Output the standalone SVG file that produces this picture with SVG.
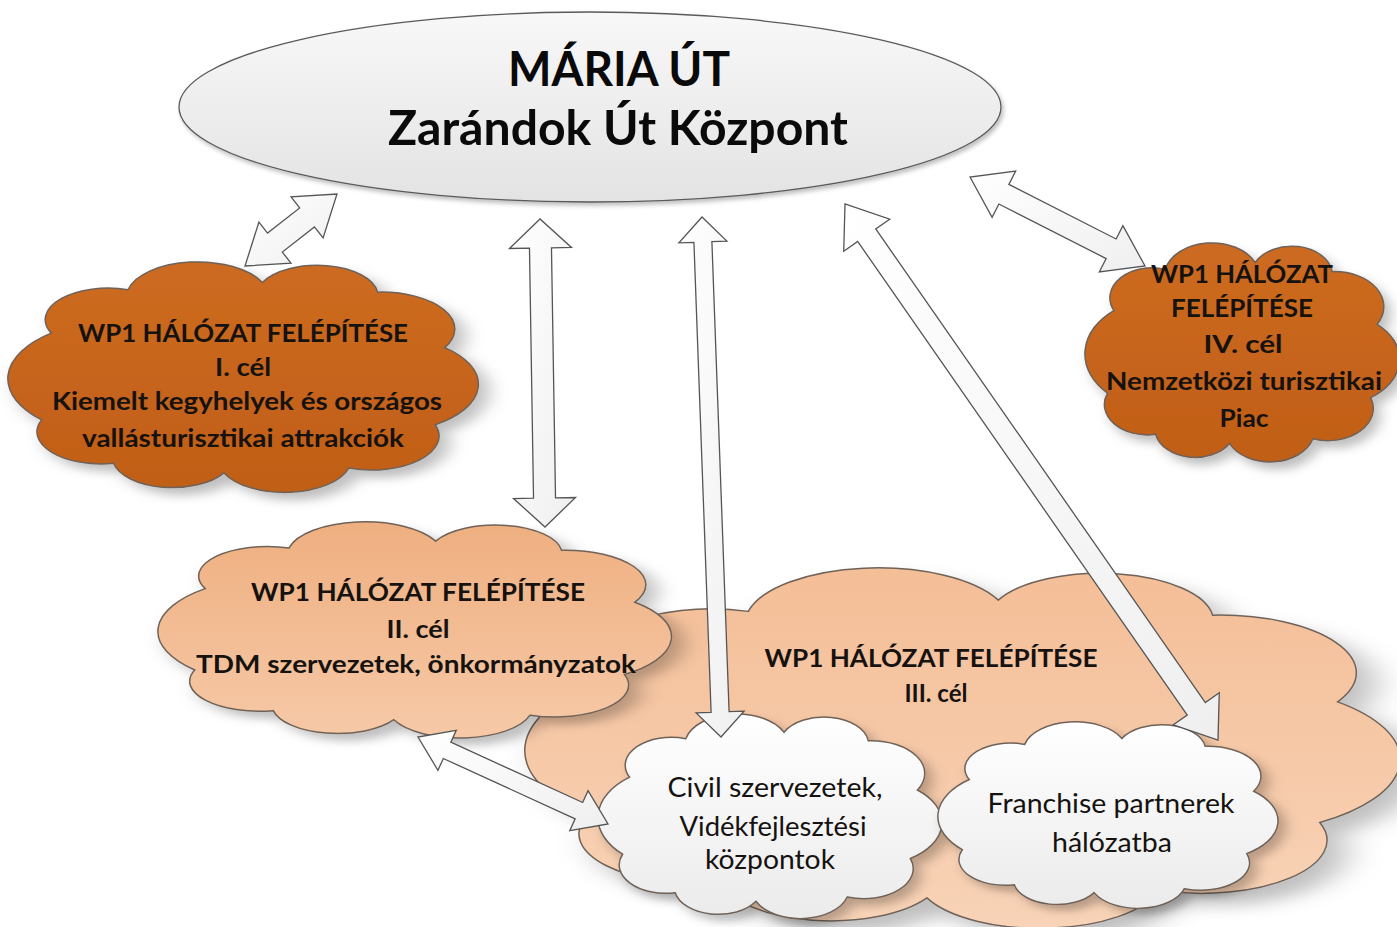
<svg xmlns="http://www.w3.org/2000/svg" xmlns:xlink="http://www.w3.org/1999/xlink" width="1397" height="927" viewBox="0 0 1397 927">
<style>
.t{font-family:Lato,"Liberation Sans","DejaVu Sans",sans-serif;fill:#151210;text-anchor:middle;}
.b{font-weight:bold;font-size:25px;}
.r{font-weight:normal;font-size:27px;}
.h{font-weight:bold;font-size:48px;fill:#0a0a0a;}
.cl{stroke:#6f6258;stroke-width:1.5;}
.arr{fill:url(#gArr);stroke:#555;stroke-width:1.3;stroke-linejoin:miter;}
</style>
<defs>
<linearGradient id="gEll" x1="0" y1="0" x2="0" y2="1"><stop offset="0" stop-color="#f8f8f8"/><stop offset="1" stop-color="#e3e3e3"/></linearGradient>
<linearGradient id="gDark" x1="0" y1="0" x2="0" y2="1"><stop offset="0" stop-color="#cd6b21"/><stop offset="1" stop-color="#c05e17"/></linearGradient>
<linearGradient id="gMid" x1="0" y1="0" x2="0" y2="1"><stop offset="0" stop-color="#efaf80"/><stop offset="1" stop-color="#f6c9a7"/></linearGradient>
<linearGradient id="gLight" x1="0" y1="0" x2="0" y2="1"><stop offset="0" stop-color="#f4be97"/><stop offset="1" stop-color="#f8d3b7"/></linearGradient>
<linearGradient id="gWhite" x1="0" y1="0" x2="0" y2="1"><stop offset="0" stop-color="#ffffff"/><stop offset="1" stop-color="#ebebeb"/></linearGradient>
<linearGradient id="gArr" x1="0" y1="0" x2="1" y2="1"><stop offset="0" stop-color="#ffffff"/><stop offset="1" stop-color="#efefef"/></linearGradient>
<filter id="sh" x="-10%" y="-10%" width="120%" height="125%"><feDropShadow dx="2" dy="3" stdDeviation="2" flood-color="#000" flood-opacity="0.25"/></filter>
<path id="cloud" vector-effect="non-scaling-stroke" d="M8,68 A24.3,24.3 0 0 1 10,32 A13.1,13.1 0 0 1 26,14 A14.9,14.9 0 0 1 54,11 A12.7,12.7 0 0 1 78,15 A15.3,15.3 0 0 1 92,38 A20.1,20.1 0 0 1 90,70 A14.1,14.1 0 0 1 72,88 A13.9,13.9 0 0 1 46,90 A12.5,12.5 0 0 1 23,86 A13.3,13.3 0 0 1 8,68 Z"/>
</defs>
<rect width="1397" height="927" fill="#ffffff"/>

<g id="center">
<ellipse cx="590" cy="107" rx="411" ry="95" fill="url(#gEll)" stroke="#5a5a5a" stroke-width="1.3" filter="url(#sh)"/>
<text class="t h" x="619" y="86" textLength="222" lengthAdjust="spacingAndGlyphs">MÁRIA ÚT</text>
<text class="t h" x="618" y="145" textLength="460" lengthAdjust="spacingAndGlyphs">Zarándok Út Központ</text>
</g>

<g id="goal1">
<use xlink:href="#cloud" href="#cloud" class="cl" fill="url(#gDark)" filter="url(#sh)" transform="translate(3.2,256) scale(4.8,2.41)"/>
<text class="t b" x="243" y="342" textLength="330" lengthAdjust="spacingAndGlyphs">WP1 HÁLÓZAT FELÉPÍTÉSE</text>
<text class="t b" x="243" y="376" textLength="56" lengthAdjust="spacingAndGlyphs">I. cél</text>
<text class="t b" x="247" y="410" textLength="390" lengthAdjust="spacingAndGlyphs">Kiemelt kegyhelyek és országos</text>
<text class="t b" x="243" y="447" textLength="322" lengthAdjust="spacingAndGlyphs">vallásturisztikai attrakciók</text>
</g>

<g id="goal4">
<use xlink:href="#cloud" href="#cloud" class="cl" fill="url(#gDark)" filter="url(#sh)" transform="translate(1081.8,237.3) scale(3.21,2.29)"/>
<text class="t b" x="1242" y="283" textLength="182" lengthAdjust="spacingAndGlyphs">WP1 HÁLÓZAT</text>
<text class="t b" x="1242" y="317" textLength="142" lengthAdjust="spacingAndGlyphs">FELÉPÍTÉSE</text>
<text class="t b" x="1243" y="353" textLength="79" lengthAdjust="spacingAndGlyphs">IV. cél</text>
<text class="t b" x="1244" y="390" textLength="276" lengthAdjust="spacingAndGlyphs">Nemzetközi turisztikai</text>
<text class="t b" x="1244" y="427" textLength="49" lengthAdjust="spacingAndGlyphs">Piac</text>
</g>

<g id="goal3">
<use xlink:href="#cloud" href="#cloud" class="cl" fill="url(#gLight)" filter="url(#sh)" transform="translate(516.1,558.6) scale(8.93,3.77)"/>
<text class="t b" x="931" y="667" textLength="333" lengthAdjust="spacingAndGlyphs">WP1 HÁLÓZAT FELÉPÍTÉSE</text>
<text class="t b" x="936" y="702" textLength="63" lengthAdjust="spacingAndGlyphs">III. cél</text>
</g>

<g id="goal2">
<use xlink:href="#cloud" href="#cloud" class="cl" fill="url(#gMid)" filter="url(#sh)" transform="translate(152.8,516.3) scale(5.24,2.26)"/>
<text class="t b" x="418" y="601" textLength="334" lengthAdjust="spacingAndGlyphs">WP1 HÁLÓZAT FELÉPÍTÉSE</text>
<text class="t b" x="418" y="638" textLength="63" lengthAdjust="spacingAndGlyphs">II. cél</text>
<text class="t b" x="416" y="673" textLength="440" lengthAdjust="spacingAndGlyphs">TDM szervezetek, önkormányzatok</text>
</g>

<g id="civil">
<use xlink:href="#cloud" href="#cloud" class="cl" fill="url(#gWhite)" filter="url(#sh)" transform="translate(594.5,708.7) scale(3.51,2.14)"/>
<text class="t r" x="775" y="797" textLength="215" lengthAdjust="spacingAndGlyphs">Civil szervezetek,</text>
<text class="t r" x="773" y="836" textLength="187" lengthAdjust="spacingAndGlyphs">Vidékfejlesztési</text>
<text class="t r" x="770" y="869" textLength="130" lengthAdjust="spacingAndGlyphs">központok</text>
</g>

<g id="franchise">
<use xlink:href="#cloud" href="#cloud" class="cl" fill="url(#gWhite)" filter="url(#sh)" transform="translate(934.5,717.1) scale(3.47,1.95)"/>
<text class="t r" x="1111" y="813" textLength="247" lengthAdjust="spacingAndGlyphs">Franchise partnerek</text>
<text class="t r" x="1112" y="852" textLength="120" lengthAdjust="spacingAndGlyphs">hálózatba</text>
</g>

<g id="connectors">
<polygon class="arr" points="245,266 290.96,263.06 282.33,252.03 314.47,226.87 323.10,237.90 337,194 291.04,196.94 299.67,207.97 267.53,233.13 258.90,222.10"/>
<polygon class="arr" points="540,219 509.47,248.5 529.47,248.18 533.53,498.18 513.53,498.5 545,527 575.53,497.5 555.53,497.82 551.47,247.82 571.47,247.5"/>
<polygon class="arr" points="702,217 678.93,242.86 693.92,242.31 711.10,712.35 696.11,712.90 721,737 744.07,711.14 729.08,711.69 711.90,241.65 726.89,241.10"/>
<polygon class="arr" points="845,204 843.73,251.18 857.68,241.47 1187.26,715.09 1173.31,724.80 1218,740 1219.27,692.82 1205.32,702.53 875.74,228.91 889.69,219.18"/>
<polygon class="arr" points="970,177 992.09,217.41 998.89,204.04 1106.13,258.58 1099.33,271.95 1145,266 1122.91,225.59 1116.11,238.96 1008.87,184.42 1015.67,171.05"/>
<polygon class="arr" points="418,737 437.93,770.32 443.34,758.50 575.16,818.86 569.75,830.68 608,824 588.07,790.68 582.66,802.50 450.84,742.14 456.25,730.32"/>
</g>
</svg>
